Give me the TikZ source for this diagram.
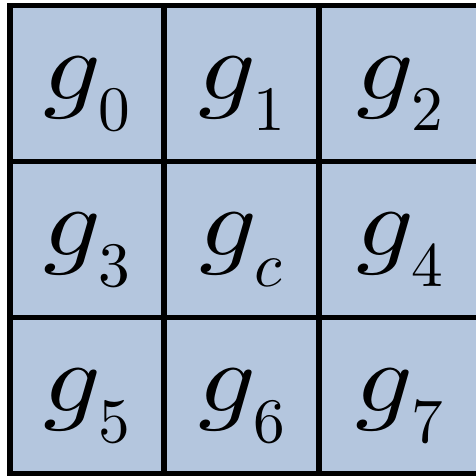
\documentclass[tikz,border=0pt]{standalone}
\usepackage{unicode-math}
\usepackage{graphicx}
\usetikzlibrary{positioning}
\definecolor{cellblue}{RGB}{180,198,222}
\newcommand{\gsub}[1]{\scalebox{1.15}[1]{$g$}\kern-0.5pt\raisebox{-8.8pt}{\fontsize{18}{20}\selectfont$#1$}}

\begin{document}
\begin{tikzpicture}[
    cell/.style={rectangle, draw=black, fill=cellblue, line width=1.7pt, minimum width=1.545cm, minimum height=1.56cm, inner sep=0pt, outer sep=0pt, text height=0.7cm, text depth=0.37cm, font=\fontsize{28}{34}\selectfont},
    lastcol/.style={minimum width=1.62cm}
]
\useasboundingbox (0,0) rectangle (4.76,4.76);

\node (G0) [cell] at (0.87,3.925) {\gsub{0}};
\node (G1) [cell, right=0pt of G0] {\gsub{1}};
\node (G2) [cell, lastcol, right=0pt of G1] {\gsub{2}};
\node (G3) [cell, below=0pt of G0] {\gsub{3}};
\node (GC) [cell, right=0pt of G3] {\gsub{c}};
\node (G4) [cell, lastcol, right=0pt of GC] {\gsub{4}};
\node (G5) [cell, below=0pt of G3] {\gsub{5}};
\node (G6) [cell, right=0pt of G5] {\gsub{6}};
\node (G7) [cell, lastcol, right=0pt of G6] {\gsub{7}};

\end{tikzpicture}
\end{document}
